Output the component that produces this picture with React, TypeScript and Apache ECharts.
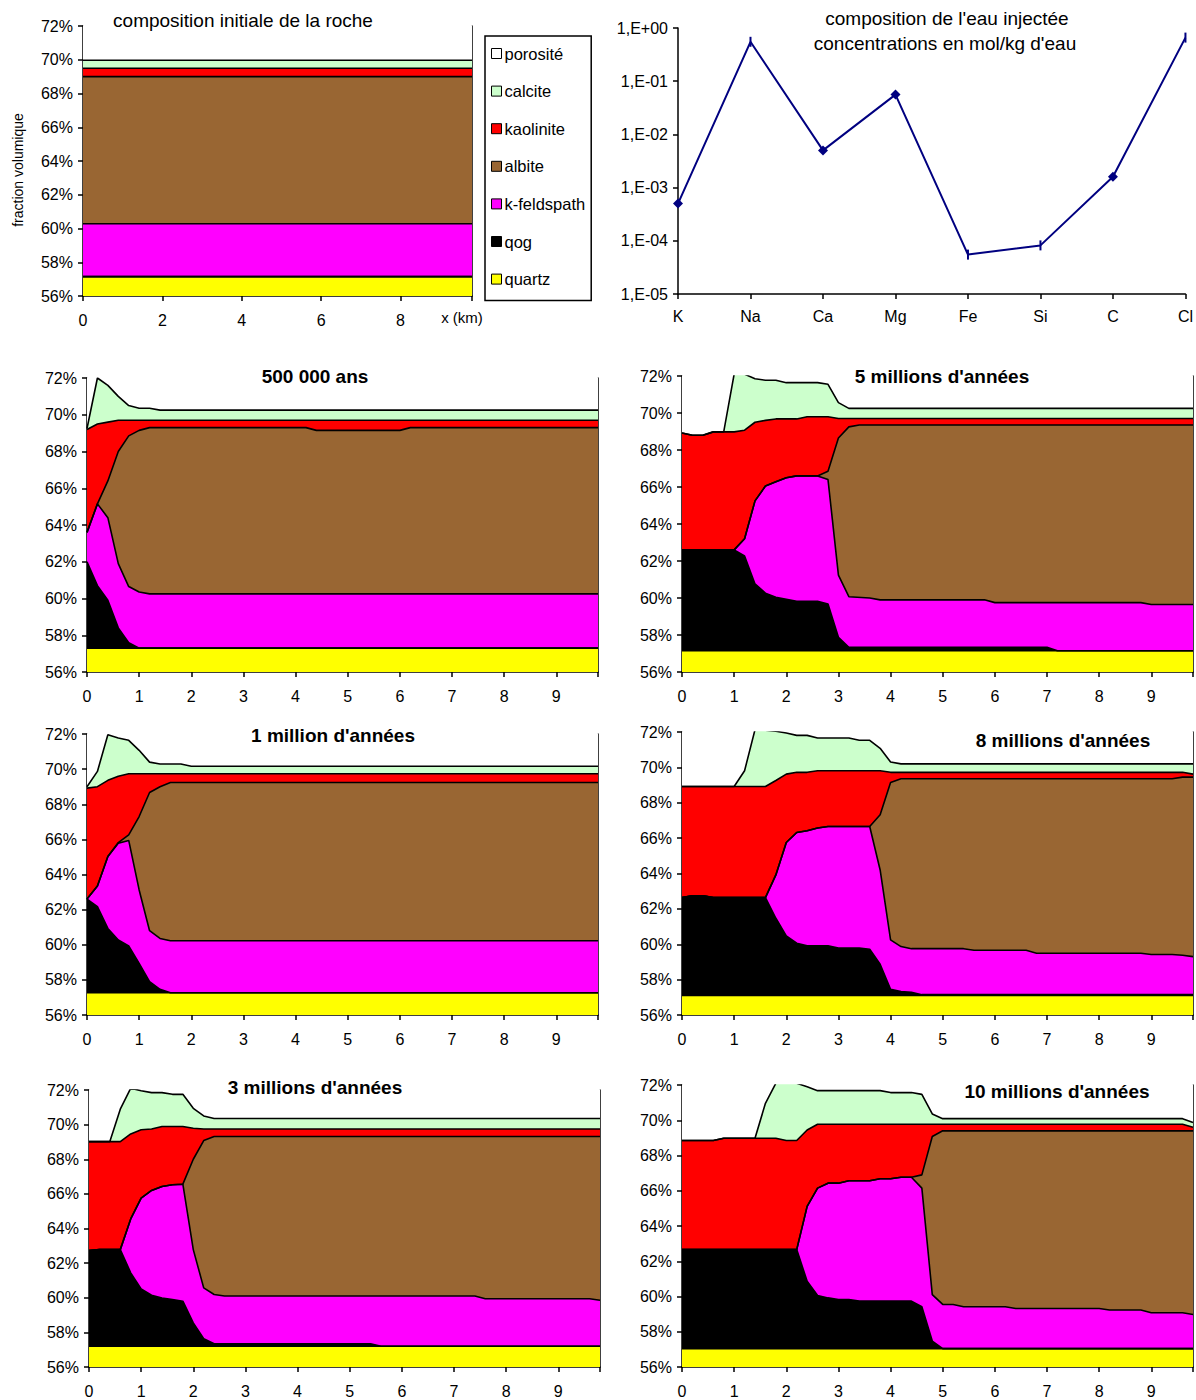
import React, { useEffect, useRef } from "react";
import * as echarts from "echarts";

// ---------- legend / layers (drawn top layer first) ----------
const LAYERS = ["porosité", "calcite", "kaolinite", "albite", "k-feldspath", "qog", "quartz"];
const COLORS = ["#FFFFFF", "#CCFFCC", "#FF0000", "#996633", "#FF00FF", "#000000", "#FFFF00"];

// cumulative top of each layer (fraction volumique, %) vs x (km)
const porositeTop = [[0, 100], [9.8, 100]];

// initial rock composition
const init_calcite = [[0, 69.97], [9.8, 69.97]];
const init_kaolinite = [[0, 69.5], [9.8, 69.5]];
const init_albite = [[0, 69.0], [9.8, 69.0]];
const init_kfeld = [[0, 60.28], [9.8, 60.28]];
const init_qog = [[0, 57.15], [9.8, 57.15]];
const init_quartz = [[0, 57.15], [9.8, 57.15]];

// 500 000 ans
const p05_calcite = [[0, 69.25], [0.2, 72.0], [0.4, 71.6], [0.6, 71.0], [0.8, 70.5], [1.0, 70.35], [1.2, 70.35], [1.4, 70.25], [9.8, 70.25]];
const p05_kaolinite = [[0, 69.2], [0.2, 69.5], [0.4, 69.6], [0.6, 69.7], [9.8, 69.7]];
const p05_albite = [[0, 63.6], [0.2, 65.15], [0.4, 66.4], [0.6, 68.0], [0.8, 68.85], [1.0, 69.15], [1.2, 69.3], [4.2, 69.3], [4.4, 69.15], [6.0, 69.15], [6.2, 69.3], [9.8, 69.3]];
const p05_kfeld = [[0, 63.6], [0.2, 65.15], [0.4, 64.4], [0.6, 61.9], [0.8, 60.65], [1.0, 60.35], [1.2, 60.25], [9.8, 60.25]];
const p05_qog = [[0, 62.0], [0.2, 60.7], [0.4, 59.9], [0.6, 58.4], [0.8, 57.6], [1.0, 57.3], [9.8, 57.3]];
const p05_quartz = [[0, 57.3], [9.8, 57.3]];

// 1 million d'années
const p1_calcite = [[0, 69.0], [0.2, 69.87], [0.4, 71.96], [0.6, 71.77], [0.8, 71.64], [1.0, 71.07], [1.2, 70.4], [1.4, 70.29], [1.8, 70.29], [2.0, 70.16], [9.8, 70.16]];
const p1_kaolinite = [[0, 68.92], [0.2, 69.0], [0.4, 69.36], [0.6, 69.59], [0.8, 69.74], [9.8, 69.74]];
const p1_albite = [[0, 62.6], [0.2, 63.35], [0.4, 65.02], [0.6, 65.82], [0.8, 66.26], [1.0, 67.3], [1.2, 68.67], [1.4, 69.0], [1.6, 69.24], [9.8, 69.24]];
const p1_kfeld = [[0, 62.6], [0.2, 63.35], [0.4, 65.02], [0.6, 65.78], [0.8, 65.94], [1.0, 63.12], [1.2, 60.8], [1.4, 60.36], [1.6, 60.23], [9.8, 60.23]];
const p1_qog = [[0, 62.6], [0.2, 62.17], [0.4, 60.93], [0.6, 60.27], [0.8, 59.93], [1.0, 58.94], [1.2, 57.9], [1.4, 57.46], [1.6, 57.27], [9.8, 57.27]];
const p1_quartz = [[0, 57.27], [9.8, 57.27]];

// 3 millions d'années
const p3_calcite = [[0, 69.02], [0.4, 69.02], [0.6, 70.89], [0.8, 72.1], [1.0, 71.96], [1.2, 71.85], [1.4, 71.85], [1.6, 71.75], [1.8, 71.75], [2.0, 70.94], [2.2, 70.5], [2.4, 70.35], [9.8, 70.35]];
const p3_kaolinite = [[0, 69.02], [0.6, 69.02], [0.8, 69.46], [1.0, 69.7], [1.2, 69.75], [1.4, 69.89], [1.8, 69.89], [2.0, 69.79], [2.2, 69.75], [9.8, 69.75]];
const p3_albite = [[0, 62.72], [0.2, 62.78], [0.6, 62.78], [0.8, 64.55], [1.0, 65.76], [1.2, 66.2], [1.4, 66.43], [1.6, 66.53], [1.8, 66.56], [2.0, 68.0], [2.2, 69.08], [2.4, 69.31], [9.8, 69.31]];
const p3_kfeld = [[0, 62.72], [0.2, 62.78], [0.6, 62.78], [0.8, 64.55], [1.0, 65.76], [1.2, 66.2], [1.4, 66.43], [1.6, 66.53], [1.8, 66.56], [2.0, 62.78], [2.2, 60.57], [2.4, 60.19], [2.6, 60.1], [7.4, 60.1], [7.6, 59.94], [9.6, 59.94], [9.8, 59.86]];
const p3_qog = [[0, 62.72], [0.2, 62.78], [0.6, 62.78], [0.8, 61.44], [1.0, 60.51], [1.2, 60.15], [1.4, 59.99], [1.6, 59.9], [1.8, 59.8], [2.0, 58.55], [2.2, 57.63], [2.4, 57.34], [5.4, 57.34], [5.6, 57.2], [9.8, 57.2]];
const p3_quartz = [[0, 57.2], [9.8, 57.2]];

// 5 millions d'années
const p5_calcite = [[0, 68.92], [0.2, 68.8], [0.4, 68.8], [0.6, 68.98], [0.8, 68.98], [1.0, 72.1], [1.2, 72.1], [1.4, 71.85], [1.6, 71.77], [1.8, 71.77], [2.0, 71.64], [2.6, 71.64], [2.8, 71.55], [3.0, 70.56], [3.2, 70.25], [9.8, 70.25]];
const p5_kaolinite = [[0, 68.92], [0.2, 68.8], [0.4, 68.8], [0.6, 68.98], [1.0, 68.98], [1.2, 69.07], [1.4, 69.5], [1.6, 69.6], [1.8, 69.68], [2.2, 69.68], [2.4, 69.8], [2.8, 69.8], [3.0, 69.7], [9.8, 69.7]];
const p5_albite = [[0, 62.6], [1.0, 62.6], [1.2, 63.2], [1.4, 65.25], [1.6, 66.05], [1.8, 66.28], [2.0, 66.5], [2.2, 66.6], [2.6, 66.6], [2.8, 66.85], [3.0, 68.65], [3.2, 69.25], [3.4, 69.35], [9.8, 69.35]];
const p5_kfeld = [[0, 62.6], [1.0, 62.6], [1.2, 63.2], [1.4, 65.25], [1.6, 66.05], [1.8, 66.28], [2.0, 66.5], [2.2, 66.6], [2.6, 66.6], [2.8, 66.4], [3.0, 61.24], [3.2, 60.07], [3.6, 60.0], [3.8, 59.9], [5.8, 59.9], [6.0, 59.75], [8.8, 59.75], [9.0, 59.65], [9.8, 59.65]];
const p5_qog = [[0, 62.6], [1.0, 62.6], [1.2, 62.27], [1.4, 60.76], [1.6, 60.26], [1.8, 60.04], [2.0, 59.93], [2.2, 59.82], [2.6, 59.82], [2.8, 59.68], [3.0, 57.88], [3.2, 57.34], [7.0, 57.34], [7.2, 57.15], [9.8, 57.15]];
const p5_quartz = [[0, 57.15], [9.8, 57.15]];

// 8 millions d'années
const p8_calcite = [[0, 68.92], [1.0, 68.92], [1.2, 69.81], [1.4, 72.13], [1.6, 72.1], [1.8, 72.04], [2.0, 71.94], [2.2, 71.81], [2.4, 71.81], [2.6, 71.66], [3.2, 71.66], [3.4, 71.53], [3.6, 71.53], [3.8, 71.08], [4.0, 70.3], [4.2, 70.2], [9.8, 70.2]];
const p8_kaolinite = [[0, 68.92], [1.6, 68.92], [1.8, 69.26], [2.0, 69.62], [2.2, 69.72], [2.4, 69.72], [2.6, 69.81], [3.8, 69.81], [4.0, 69.72], [9.6, 69.72], [9.8, 69.62]];
const p8_albite = [[0, 62.64], [0.2, 62.74], [0.4, 62.74], [0.6, 62.64], [1.6, 62.64], [1.8, 63.92], [2.0, 65.75], [2.2, 66.32], [2.4, 66.42], [2.6, 66.57], [2.8, 66.66], [3.6, 66.66], [3.8, 67.32], [4.0, 69.15], [4.2, 69.36], [9.4, 69.36], [9.6, 69.45], [9.8, 69.45]];
const p8_kfeld = [[0, 62.64], [0.2, 62.74], [0.4, 62.74], [0.6, 62.64], [1.6, 62.64], [1.8, 63.92], [2.0, 65.75], [2.2, 66.32], [2.4, 66.42], [2.6, 66.57], [2.8, 66.66], [3.6, 66.66], [3.8, 64.2], [4.0, 60.25], [4.2, 59.87], [4.4, 59.75], [5.4, 59.75], [5.6, 59.66], [6.6, 59.66], [6.8, 59.49], [8.8, 59.49], [9.0, 59.42], [9.4, 59.42], [9.6, 59.38], [9.8, 59.3]];
const p8_qog = [[0, 62.64], [0.2, 62.74], [0.4, 62.74], [0.6, 62.64], [1.6, 62.64], [1.8, 61.47], [2.0, 60.47], [2.2, 60.06], [2.4, 59.91], [2.8, 59.91], [3.0, 59.79], [3.4, 59.79], [3.6, 59.72], [3.8, 58.87], [4.0, 57.45], [4.2, 57.32], [4.4, 57.28], [4.6, 57.15], [9.8, 57.15]];
const p8_quartz = [[0, 57.11], [9.8, 57.11]];

// 10 millions d'années
const p10_calcite = [[0, 68.85], [0.6, 68.85], [0.8, 68.98], [1.4, 68.98], [1.6, 70.96], [1.8, 72.1], [2.0, 72.3], [2.2, 72.1], [2.4, 71.9], [2.6, 71.68], [3.8, 71.68], [4.0, 71.57], [4.4, 71.57], [4.6, 71.47], [4.8, 70.36], [5.0, 70.09], [9.6, 70.09], [9.8, 69.87]];
const p10_kaolinite = [[0, 68.85], [0.6, 68.85], [0.8, 68.98], [1.8, 68.98], [2.0, 68.85], [2.2, 68.85], [2.4, 69.45], [2.6, 69.77], [9.6, 69.77], [9.8, 69.6]];
const p10_albite = [[0, 62.66], [2.2, 62.66], [2.4, 65.11], [2.6, 66.15], [2.8, 66.43], [3.0, 66.43], [3.2, 66.57], [3.6, 66.57], [3.8, 66.68], [4.0, 66.68], [4.2, 66.77], [4.4, 66.77], [4.6, 66.9], [4.8, 69.08], [5.0, 69.4], [9.8, 69.4]];
const p10_kfeld = [[0, 62.66], [2.2, 62.66], [2.4, 65.11], [2.6, 66.15], [2.8, 66.43], [3.0, 66.43], [3.2, 66.57], [3.6, 66.57], [3.8, 66.68], [4.0, 66.68], [4.2, 66.77], [4.4, 66.77], [4.6, 66.15], [4.8, 60.11], [5.0, 59.55], [5.2, 59.55], [5.4, 59.42], [6.2, 59.42], [6.4, 59.32], [8.0, 59.32], [8.2, 59.23], [8.8, 59.23], [9.0, 59.08], [9.6, 59.08], [9.8, 58.98]];
const p10_qog = [[0, 62.66], [2.2, 62.66], [2.4, 60.87], [2.6, 60.06], [2.8, 59.92], [3.0, 59.83], [3.2, 59.83], [3.4, 59.74], [4.4, 59.74], [4.6, 59.42], [4.8, 57.47], [5.0, 57.04], [9.8, 57.04]];
const p10_quartz = [[0, 57.04], [9.8, 57.04]];

// injected water composition (mol/kg d'eau)
const ELEMENTS = ["K", "Na", "Ca", "Mg", "Fe", "Si", "C", "Cl"];
const CONCENTRATIONS = [5.0e-4, 0.55, 5.0e-3, 0.056, 5.5e-5, 8.2e-5, 1.6e-3, 0.66];
const DIAMOND_MARKED = [true, false, true, true, false, false, true, false];

const Y_TICKS = [56, 72, 2];
const X_MAX = 9.8;
const FONT = '"Liberation Sans", Arial, sans-serif';

const PANELS = [
  { key: "init", grid: { left: 83, top: 26, width: 389, height: 270 }, xInterval: 2,
    layers: [porositeTop, init_calcite, init_kaolinite, init_albite, init_kfeld, init_qog, init_quartz] },
  { key: "p05", grid: { left: 87, top: 378, width: 511, height: 294 }, xInterval: 1,
    layers: [porositeTop, p05_calcite, p05_kaolinite, p05_albite, p05_kfeld, p05_qog, p05_quartz] },
  { key: "p5", grid: { left: 682, top: 376, width: 511, height: 296 }, xInterval: 1,
    layers: [porositeTop, p5_calcite, p5_kaolinite, p5_albite, p5_kfeld, p5_qog, p5_quartz] },
  { key: "p1", grid: { left: 87, top: 734, width: 511, height: 281 }, xInterval: 1,
    layers: [porositeTop, p1_calcite, p1_kaolinite, p1_albite, p1_kfeld, p1_qog, p1_quartz] },
  { key: "p8", grid: { left: 682, top: 732, width: 511, height: 283 }, xInterval: 1,
    layers: [porositeTop, p8_calcite, p8_kaolinite, p8_albite, p8_kfeld, p8_qog, p8_quartz] },
  { key: "p3", grid: { left: 89, top: 1090, width: 511, height: 277 }, xInterval: 1,
    layers: [porositeTop, p3_calcite, p3_kaolinite, p3_albite, p3_kfeld, p3_qog, p3_quartz] },
  { key: "p10", grid: { left: 682, top: 1085, width: 511, height: 282 }, xInterval: 1,
    layers: [porositeTop, p10_calcite, p10_kaolinite, p10_albite, p10_kfeld, p10_qog, p10_quartz] },
];

const TITLES = [
  { text: "composition initiale de la roche", x: 243, y: 20, bold: false },
  { text: "composition de l'eau injectée", x: 947, y: 18, bold: false },
  { text: "concentrations en mol/kg d'eau", x: 945, y: 43, bold: false },
  { text: "500 000 ans", x: 315, y: 376, bold: true },
  { text: "5 millions d'années", x: 942, y: 376, bold: true },
  { text: "1 million d'années", x: 333, y: 735, bold: true },
  { text: "8 millions d'années", x: 1063, y: 740, bold: true },
  { text: "3 millions d'années", x: 315, y: 1087, bold: true },
  { text: "10 millions d'années", x: 1057, y: 1091, bold: true },
];

function buildOption() {
  const grids: any[] = [];
  const xAxes: any[] = [];
  const yAxes: any[] = [];
  const series: any[] = [];
  const axisLine = { show: true, lineStyle: { color: "#000", width: 1.5 } };
  const axisTick = { show: true, length: 5, lineStyle: { color: "#000", width: 1.5 } };

  PANELS.forEach((p, g) => {
    grids.push({ ...p.grid, containLabel: false });
    const xi = xAxes.length;
    xAxes.push({
      type: "value", gridIndex: g, min: 0, max: X_MAX, interval: p.xInterval,
      axisLine, axisTick, splitLine: { show: false },
      axisLabel: {
        color: "#000", fontSize: 16, fontFamily: FONT, margin: 16,
        formatter: (v: number) => (Math.abs(v - Math.round(v)) < 1e-6 ? String(Math.round(v)) : ""),
      },
    });
    const yi = yAxes.length;
    yAxes.push({
      type: "value", gridIndex: g, min: Y_TICKS[0], max: Y_TICKS[1], interval: Y_TICKS[2],
      axisLine, axisTick, splitLine: { show: false },
      axisLabel: { color: "#000", fontSize: 16, fontFamily: FONT, margin: 10, formatter: "{value}%" },
    });
    yAxes.push({
      type: "value", gridIndex: g, min: Y_TICKS[0], max: Y_TICKS[1], position: "right",
      axisLine, axisTick: { show: false }, axisLabel: { show: false }, splitLine: { show: false },
    });
    p.layers.forEach((data, j) => {
      series.push({
        type: "line", name: LAYERS[j], xAxisIndex: xi, yAxisIndex: yi, data,
        symbol: "none", showSymbol: false, clip: true, silent: true,
        lineStyle: { color: "#000", width: 1.6 },
        itemStyle: { color: COLORS[j] },
        areaStyle: { color: COLORS[j], opacity: 1, origin: "start" },
      });
    });
  });

  // log chart of the injected water
  const lg = grids.length;
  grids.push({ left: 678, top: 28, width: 510, height: 266 });
  const lxi = xAxes.length;
  xAxes.push({
    type: "category", gridIndex: lg, data: ELEMENTS, boundaryGap: false,
    axisLine, axisTick: { ...axisTick, alignWithLabel: true },
    axisLabel: { color: "#000", fontSize: 16, fontFamily: FONT, margin: 14 },
  });
  const lyi = yAxes.length;
  yAxes.push({
    type: "log", gridIndex: lg, min: 1e-5, max: 1, logBase: 10,
    axisLine, axisTick, splitLine: { show: false }, minorTick: { show: false },
    axisLabel: {
      color: "#000", fontSize: 16, fontFamily: FONT, margin: 10,
      formatter: (v: number) => {
        const e = Math.round(Math.log10(v));
        return "1,E" + (e >= 0 ? "+" : "-") + String(Math.abs(e)).padStart(2, "0");
      },
    },
  });
  series.push({
    type: "line", name: "eau injectée", xAxisIndex: lxi, yAxisIndex: lyi,
    data: CONCENTRATIONS.map((v, i) =>
      DIAMOND_MARKED[i]
        ? { value: v, symbol: "diamond", symbolSize: 10 }
        : { value: v, symbol: "rect", symbolSize: [2, 10] }
    ),
    lineStyle: { color: "#000080", width: 2 },
    itemStyle: { color: "#000080" },
    showSymbol: true, silent: true,
  });

  const graphics: any[] = TITLES.map((t) => ({
    type: "text", x: t.x, y: t.y, silent: true, z: 100,
    style: {
      text: t.text, fill: "#000", fontSize: 19, fontFamily: FONT,
      fontWeight: t.bold ? "bold" : "normal", align: "center", verticalAlign: "middle",
    },
  }));
  graphics.push({
    type: "text", x: 18, y: 170, rotation: Math.PI / 2, silent: true, z: 100,
    style: { text: "fraction volumique", fill: "#000", fontSize: 14, fontFamily: FONT, align: "center", verticalAlign: "middle" },
  });
  graphics.push({
    type: "text", x: 462, y: 317, silent: true, z: 100,
    style: { text: "x (km)", fill: "#000", fontSize: 15, fontFamily: FONT, align: "center", verticalAlign: "middle" },
  });

  return {
    animation: false,
    backgroundColor: "#fff",
    grid: grids,
    xAxis: xAxes,
    yAxis: yAxes,
    series,
    legend: {
      orient: "vertical", left: 485, top: 36, padding: [9, 6, 13, 6],
      itemGap: 20.6, itemWidth: 10, itemHeight: 10, icon: "rect",
      borderColor: "#000", borderWidth: 1.5, selectedMode: false,
      itemStyle: { borderColor: "#000", borderWidth: 1 },
      textStyle: { color: "#000", fontSize: 16.5, fontFamily: FONT, padding: [0, 0, 0, -2] },
      data: LAYERS,
    },
    graphic: graphics,
  };
}

export default function App() {
  const ref = useRef<HTMLDivElement>(null);
  useEffect(() => {
    if (!ref.current) return;
    const chart = echarts.init(ref.current, undefined, { renderer: "svg" });
    chart.setOption(buildOption() as any);
    return () => chart.dispose();
  }, []);
  return (
    <div
      ref={ref}
      style={{ position: "absolute", left: 0, top: 0, width: 1196, height: 1400, background: "#fff" }}
    />
  );
}
